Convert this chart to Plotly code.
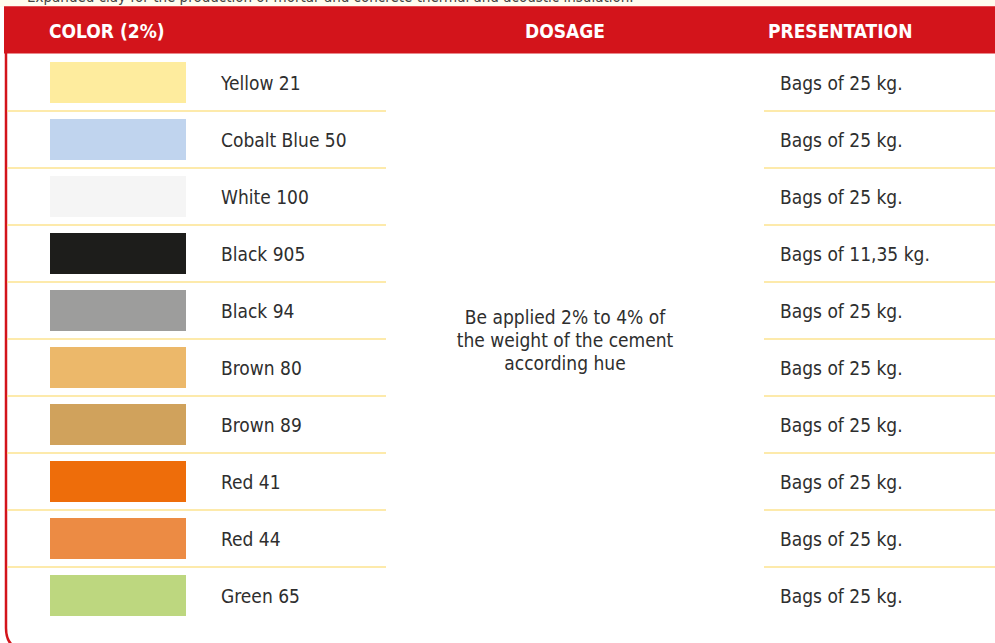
import plotly.graph_objects as go

# ---- data ----
color_names = ["Yellow 21", "Cobalt Blue 50", "White 100", "Black 905", "Black 94",
               "Brown 80", "Brown 89", "Red 41", "Red 44", "Green 65"]
swatch_colors = ["#FEEC9E", "#C0D4EE", "#F5F5F5", "#1D1D1B", "#9D9D9C",
                 "#ECB86A", "#D0A25C", "#EE6D0A", "#EC8B44", "#BDD77F"]
presentation = ["Bags of 25 kg.", "Bags of 25 kg.", "Bags of 25 kg.", "Bags of 11,35 kg.",
                "Bags of 25 kg.", "Bags of 25 kg.", "Bags of 25 kg.", "Bags of 25 kg.",
                "Bags of 25 kg.", "Bags of 25 kg."]
headers = ["COLOR (2%)", "DOSAGE", "PRESENTATION"]
dosage_lines = ["Be applied 2% to 4% of", "the weight of the cement", "according hue"]
top_note = "Expanded clay for the production of mortar and concrete thermal and acoustic insulation."

W, H = 995, 643
ROW_H = 57.0
ROW0 = 82.5  # pixel centre of first row
RED = "#D3141B"
SEP = "#FCE38F"
TXT = "#2E2E2E"
FONT = "DejaVu Sans Condensed, Liberation Sans Narrow, sans-serif"
TXT_SHIFT = 3 / ROW_H

n = len(color_names)
rows = list(range(n))

def yrow(px):
    return (px - ROW0) / ROW_H

def X(px):
    return px / W

def Y(px):
    return 1 - px / H

fig = go.Figure()

# swatches
fig.add_trace(go.Bar(
    y=rows, x=[136] * n, base=50, orientation="h", width=41 / ROW_H,
    marker=dict(color=swatch_colors, line=dict(width=0)),
    hoverinfo="skip", showlegend=False))

# colour names
fig.add_trace(go.Scatter(
    x=[221] * n, y=[r + TXT_SHIFT for r in rows], mode="text", text=color_names,
    textposition="middle right",
    textfont=dict(family=FONT, size=19, color=TXT), hoverinfo="skip", showlegend=False))

# presentation
fig.add_trace(go.Scatter(
    x=[780] * n, y=[r + TXT_SHIFT for r in rows], mode="text", text=presentation,
    textposition="middle right",
    textfont=dict(family=FONT, size=19, color=TXT), hoverinfo="skip", showlegend=False))

# dosage (centered between middle rows)
mid = (n - 1) / 2
pitch = 23 / ROW_H
fig.add_trace(go.Scatter(
    x=[565] * len(dosage_lines),
    y=[mid + TXT_SHIFT + (k - (len(dosage_lines) - 1) / 2) * pitch for k in range(len(dosage_lines))],
    mode="text", text=dosage_lines, textposition="middle center",
    textfont=dict(family=FONT, size=19, color=TXT), hoverinfo="skip", showlegend=False))

shapes = []
# top cream strip
shapes.append(dict(type="rect", xref="paper", yref="paper", x0=0, x1=1, y0=Y(7), y1=1,
                   fillcolor="#FFFCEE", line=dict(width=0), layer="below"))
# header
shapes.append(dict(type="rect", xref="paper", yref="paper", x0=X(4), x1=1, y0=Y(53.5), y1=Y(6),
                   fillcolor=RED, line=dict(width=0), layer="below"))
shapes.append(dict(type="line", xref="paper", yref="paper", x0=X(4), x1=1, y0=Y(6.5), y1=Y(6.5),
                   line=dict(color="#E24A4F", width=1)))
# left border with rounded bottom corner
shapes.append(dict(type="path", xref="paper", yref="paper",
                   path=f"M {X(6)},{Y(50)} L {X(6)},{Y(628)} Q {X(6)},{Y(650)} {X(28)},{Y(650)}",
                   line=dict(color=RED, width=2.5)))
# separators
for i in range(n - 1):
    yy = i + 0.5
    for xa, xb in [(7, 386), (764, 995)]:
        shapes.append(dict(type="line", xref="x", yref="y", x0=xa, x1=xb, y0=yy, y1=yy,
                           line=dict(color=SEP, width=1.6)))

annotations = []
hx = [(47, "left"), (565, "center"), (840, "center")]
for (px, anc), t in zip(hx, headers):
    annotations.append(dict(xref="x", yref="paper", x=px, y=Y(31), text=t, showarrow=False,
                            xanchor=anc, yanchor="middle",
                            font=dict(family=FONT, size=19, color="white", weight="bold")))
annotations.append(dict(xref="x", yref="paper", x=25, y=Y(-2.5), text=top_note, showarrow=False,
                        xanchor="left", yanchor="middle",
                        font=dict(family=FONT, size=15, color="#444444")))

fig.update_layout(
    width=W, height=H, margin=dict(l=0, r=0, t=0, b=0),
    paper_bgcolor="white", plot_bgcolor="white",
    xaxis=dict(range=[0, W], visible=False, fixedrange=True),
    yaxis=dict(range=[yrow(H), yrow(0)], visible=False, fixedrange=True),
    shapes=shapes, annotations=annotations, bargap=0,
)

fig.write_html("out.html", config={"displayModeBar": False, "staticPlot": True},
               post_script="document.body.style.margin='0';document.body.style.overflow='hidden';")
